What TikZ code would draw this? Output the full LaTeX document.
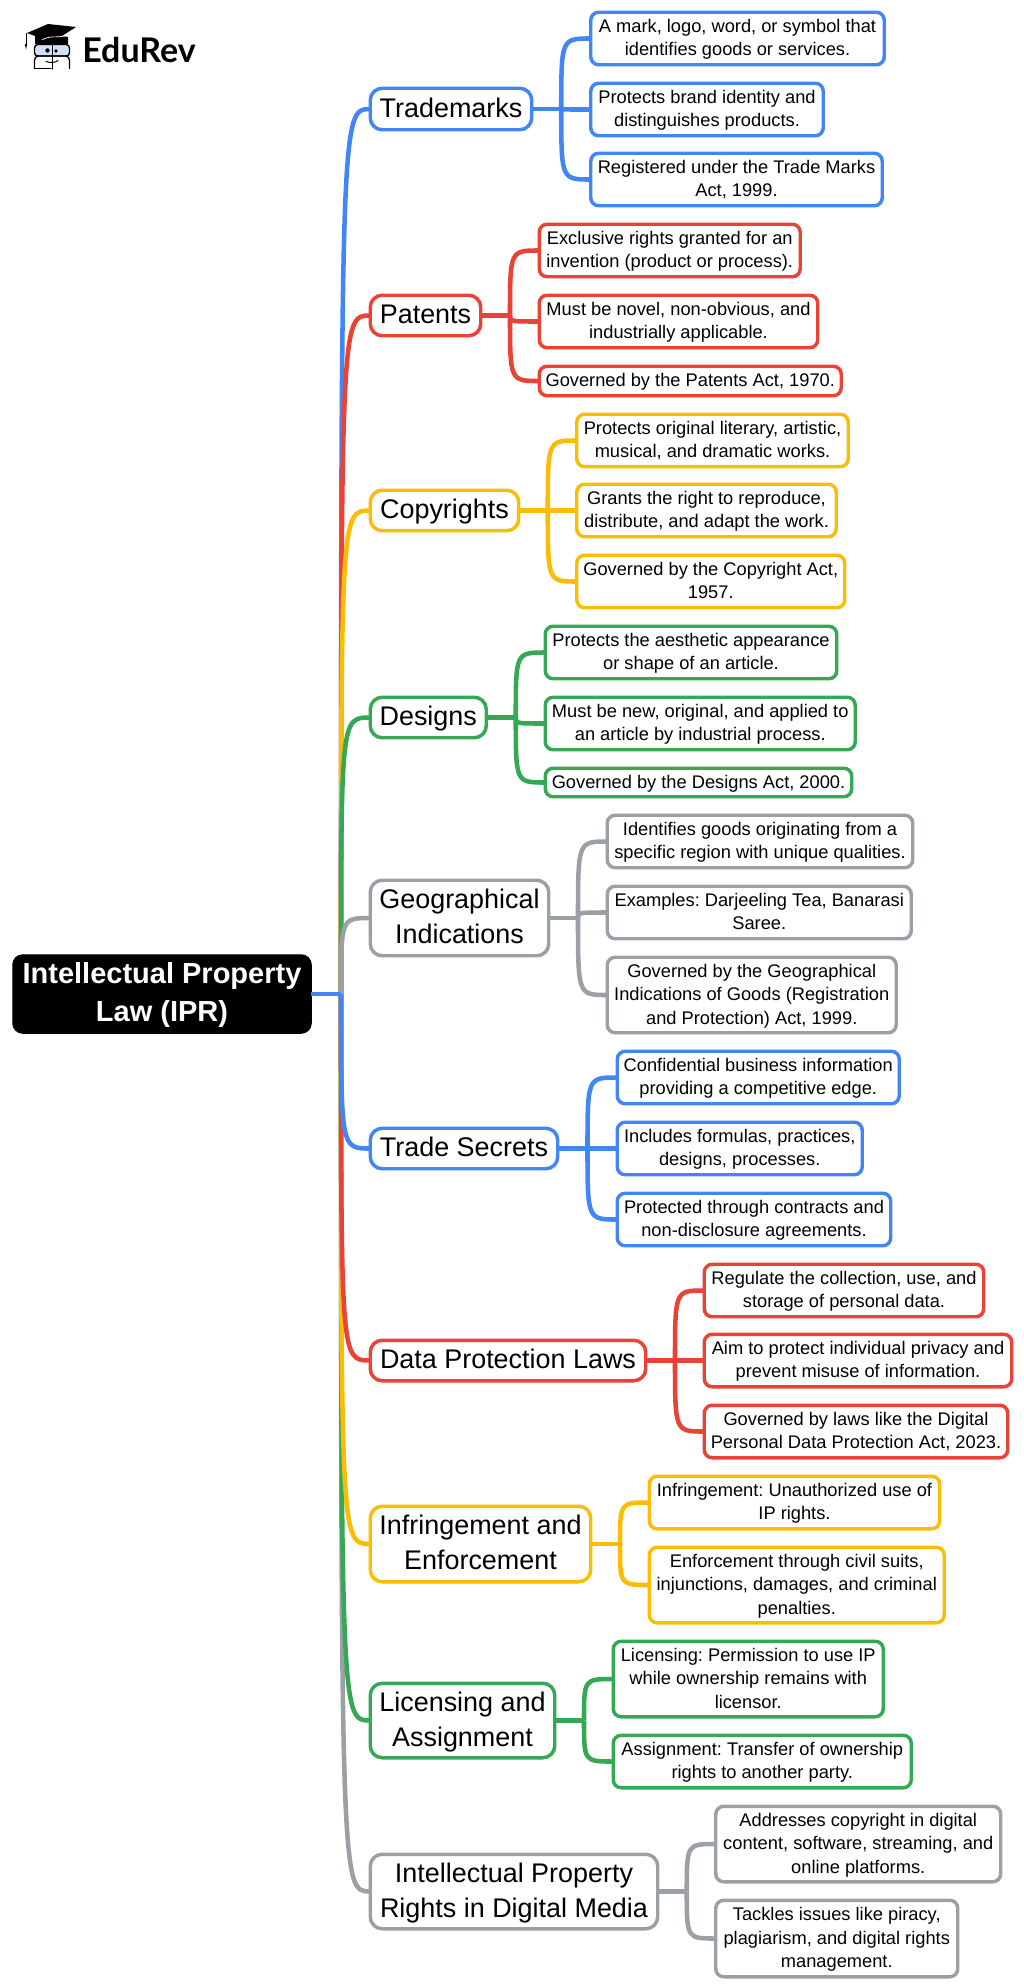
\documentclass[tikz,border=0pt]{standalone}
\usepackage{fontspec}
\setmainfont{Liberation Sans}
\newfontfamily\logofont{Lato}
\usetikzlibrary{calc}
\definecolor{cblue}{HTML}{4285F4}
\definecolor{cred}{HTML}{EA4335}
\definecolor{cyellow}{HTML}{FBBC04}
\definecolor{cgreen}{HTML}{34A853}
\definecolor{cgray}{HTML}{9AA0A6}
\definecolor{cglass}{HTML}{CFE0FA}
\tikzset{
  boxbase/.style={draw,fill=white,line width=2.6pt,outer sep=0pt,inner sep=0pt,align=center,text=black},
  branchbox/.style={boxbase,rounded corners=9pt,font=\frenchspacing\fontsize{20.2}{26.25}\selectfont},
  leafbox/.style={boxbase,rounded corners=6pt,font=\frenchspacing\fontsize{13.7}{17.6}\selectfont},
  rootbox/.style={draw=black,fill=black,line width=0.75pt,outer sep=0pt,inner sep=0pt,align=center,text=white,rounded corners=7.5pt,font=\frenchspacing\fontsize{21.75}{28.6}\selectfont\bfseries},
  conn/.style={line width=3.4pt,line join=round},
  logoink/.style={draw=black,line width=1pt,line join=round,line cap=round}
}
\newcommand{\topstrut}{\rule{0pt}{0.9em}}
\newcommand{\botstrut}{\rule[-0.29em]{0pt}{0.29em}}
% name, style, colour, x1, y1, x2, y2, text
\newcommand{\bx}[8]{\node[#2,draw=#3,minimum width={(#6-#4-2.5)*0.75pt},minimum height={(#7-#5-2.5)*0.75pt}] (#1) at ({(#4+#6)/2},{(#5+#7)/2}) {\topstrut #8\botstrut};}
\newcommand{\trunk}[2]{\draw[conn,#1] (hub) .. controls (hub |- #2.west) and (hub |- #2.west) .. (#2.west);}
% colour, branch, split coordinate name, first leaf
\newcommand{\stem}[4]{\coordinate (#3) at ($(#2.east)!0.5!(#4.west |- #2.east)$); \draw[conn,#1] (#2.east) -- (#3);}
\newcommand{\twig}[3]{\draw[conn,#1] (#2) .. controls (#2 |- #3.west) and (#2 |- #3.west) .. (#3.west);}
\begin{document}
\begin{tikzpicture}[x=0.75pt,y=-0.75pt]
\useasboundingbox (0,0) rectangle (1024,1988);
% logo
\fill[black] (27,33) -- (48,24) -- (76,27) -- (62,36) -- (68,37) -- (68,44) -- (35,44) -- (35,36) -- cycle;
\draw[white,line width=0.5pt] (42,40) .. controls (50,35) and (58,38) .. (65,36);
\draw[black,line width=0.75pt] (26,33) -- (26,46);
\fill[black] (24.8,44) -- (27.2,44) -- (26,49.5) -- cycle;
\draw[logoink,fill=cglass,rounded corners=2.5pt] (34.5,44.5) rectangle (69.5,56);
\draw[logoink,rounded corners=3pt] (34.5,68.5) -- (34.5,56) -- (69.5,56) -- (69.5,68.5);
\draw[logoink] (35,68.5) -- (51,68.5);
\draw[logoink] (52.5,44.5) -- (52.5,69);
\draw[logoink,line width=0.75pt] (46,61.5) .. controls (50,63) and (55,63) .. (58,60.5);
\fill[black] (47.5,50.5) circle[radius=2.2];
\fill[black] (56,51) circle[radius=1.8];
\node[anchor=base west,inner sep=0pt,font=\logofont\bfseries\fontsize{25.5}{28}\selectfont] (logotext) at (82,62) {EduRev};
% root
\bx{root}{rootbox}{black}{11.5}{953.5}{312.5}{1034.5}{Intellectual Property\\Law (IPR)}
\coordinate (hub) at (341,994);
% branches
\bx{t}{branchbox}{cblue}{369}{87}{533}{131}{Trademarks}
\bx{p}{branchbox}{cred}{369}{294}{482}{337}{Patents}
\bx{c}{branchbox}{cyellow}{369}{489}{520}{532}{Copyrights}
\bx{d}{branchbox}{cgreen}{369}{696}{487.5}{739}{Designs}
\bx{g}{branchbox}{cgray}{369}{879}{550}{957}{Geographical\\Indications}
\bx{s}{branchbox}{cblue}{369}{1127}{559}{1170}{Trade Secrets}
\bx{r}{branchbox}{cred}{369}{1339}{647}{1382}{Data Protection Laws}
\bx{i}{branchbox}{cyellow}{369}{1505}{592}{1583}{Infringement and\\Enforcement}
\bx{l}{branchbox}{cgreen}{369}{1682}{556}{1759}{Licensing and\\Assignment}
\bx{m}{branchbox}{cgray}{369}{1853}{659}{1930}{Intellectual Property\\Rights in Digital Media}
% leaves
\bx{t1}{leafbox}{cblue}{589.5}{11}{885.5}{66}{A mark, logo, word, or symbol that\\identifies goods or services.}
\bx{t2}{leafbox}{cblue}{589.5}{82}{824.5}{137}{Protects brand identity and\\distinguishes products.}
\bx{t3}{leafbox}{cblue}{589.5}{152}{883.5}{207}{Registered under the Trade Marks\\Act, 1999.}
\bx{p1}{leafbox}{cred}{538}{223}{801.5}{278}{Exclusive rights granted for an\\invention (product or process).}
\bx{p2}{leafbox}{cred}{538}{294}{819}{349}{Must be novel, non-obvious, and\\industrially applicable.}
\bx{p3}{leafbox}{cred}{538}{365}{842.5}{397}{Governed by the Patents Act, 1970.}
\bx{c1}{leafbox}{cyellow}{575.5}{413}{849.5}{468}{Protects original literary, artistic,\\musical, and dramatic works.}
\bx{c2}{leafbox}{cyellow}{575.5}{483}{837.5}{538}{Grants the right to reproduce,\\distribute, and adapt the work.}
\bx{c3}{leafbox}{cyellow}{575.5}{554}{846}{609}{Governed by the Copyright Act,\\1957.}
\bx{d1}{leafbox}{cgreen}{544}{625}{838}{680}{Protects the aesthetic appearance\\or shape of an article.}
\bx{d2}{leafbox}{cgreen}{544}{696}{856.5}{751}{Must be new, original, and applied to\\an article by industrial process.}
\bx{d3}{leafbox}{cgreen}{544}{767}{853}{798}{Governed by the Designs Act, 2000.}
\bx{g1}{leafbox}{cgray}{606}{814}{914}{869}{Identifies goods originating from a\\specific region with unique qualities.}
\bx{g2}{leafbox}{cgray}{606}{885}{912.5}{940}{Examples: Darjeeling Tea, Banarasi\\Saree.}
\bx{g3}{leafbox}{cgray}{606}{956}{897.5}{1034}{Governed by the Geographical\\Indications of Goods (Registration\\and Protection) Act, 1999.}
\bx{s1}{leafbox}{cblue}{616}{1050}{900.5}{1105}{Confidential business information\\providing a competitive edge.}
\bx{s2}{leafbox}{cblue}{616}{1121}{863.5}{1176}{Includes formulas, practices,\\designs, processes.}
\bx{s3}{leafbox}{cblue}{616}{1192}{892}{1247}{Protected through contracts and\\non-disclosure agreements.}
\bx{r1}{leafbox}{cred}{703}{1263}{985}{1318}{Regulate the collection, use, and\\storage of personal data.}
\bx{r2}{leafbox}{cred}{703}{1333}{1013}{1388}{Aim to protect individual privacy and\\prevent misuse of information.}
\bx{r3}{leafbox}{cred}{703}{1404}{1009}{1459}{Governed by laws like the Digital\\Personal Data Protection Act, 2023.}
\bx{i1}{leafbox}{cyellow}{648}{1475}{941}{1530}{Infringement: Unauthorized use of\\IP rights.}
\bx{i2}{leafbox}{cyellow}{648}{1546}{945.5}{1624}{Enforcement through civil suits,\\injunctions, damages, and criminal\\penalties.}
\bx{l1}{leafbox}{cgreen}{612}{1640}{884.5}{1718}{Licensing: Permission to use IP\\while ownership remains with\\licensor.}
\bx{l2}{leafbox}{cgreen}{612}{1734}{912.5}{1789}{Assignment: Transfer of ownership\\rights to another party.}
\bx{m1}{leafbox}{cgray}{714.5}{1805}{1002}{1883}{Addresses copyright in digital\\content, software, streaming, and\\online platforms.}
\bx{m2}{leafbox}{cgray}{714.5}{1899}{959}{1978}{Tackles issues like piracy,\\plagiarism, and digital rights\\management.}
% trunk connectors
\trunk{cblue}{t}
\trunk{cred}{p}
\trunk{cyellow}{c}
\trunk{cgreen}{d}
\trunk{cgray}{g}
\trunk{cgray}{m}
\trunk{cgreen}{l}
\trunk{cyellow}{i}
\trunk{cred}{r}
\trunk{cblue}{s}
\draw[conn,cblue] (root.east) -- (hub);
% sub-branches
\stem{cblue}{t}{ta}{t1}\twig{cblue}{ta}{t1}\twig{cblue}{ta}{t2}\twig{cblue}{ta}{t3}
\stem{cred}{p}{pa}{p1}\twig{cred}{pa}{p1}\twig{cred}{pa}{p2}\twig{cred}{pa}{p3}
\stem{cyellow}{c}{ca}{c1}\twig{cyellow}{ca}{c1}\twig{cyellow}{ca}{c2}\twig{cyellow}{ca}{c3}
\stem{cgreen}{d}{da}{d1}\twig{cgreen}{da}{d1}\twig{cgreen}{da}{d2}\twig{cgreen}{da}{d3}
\stem{cgray}{g}{ga}{g1}\twig{cgray}{ga}{g1}\twig{cgray}{ga}{g2}\twig{cgray}{ga}{g3}
\stem{cblue}{s}{sa}{s1}\twig{cblue}{sa}{s1}\twig{cblue}{sa}{s2}\twig{cblue}{sa}{s3}
\stem{cred}{r}{ra}{r1}\twig{cred}{ra}{r1}\twig{cred}{ra}{r2}\twig{cred}{ra}{r3}
\stem{cyellow}{i}{ia}{i1}\twig{cyellow}{ia}{i1}\twig{cyellow}{ia}{i2}
\stem{cgreen}{l}{la}{l1}\twig{cgreen}{la}{l1}\twig{cgreen}{la}{l2}
\stem{cgray}{m}{ma}{m1}\twig{cgray}{ma}{m1}\twig{cgray}{ma}{m2}
\end{tikzpicture}
\end{document}
